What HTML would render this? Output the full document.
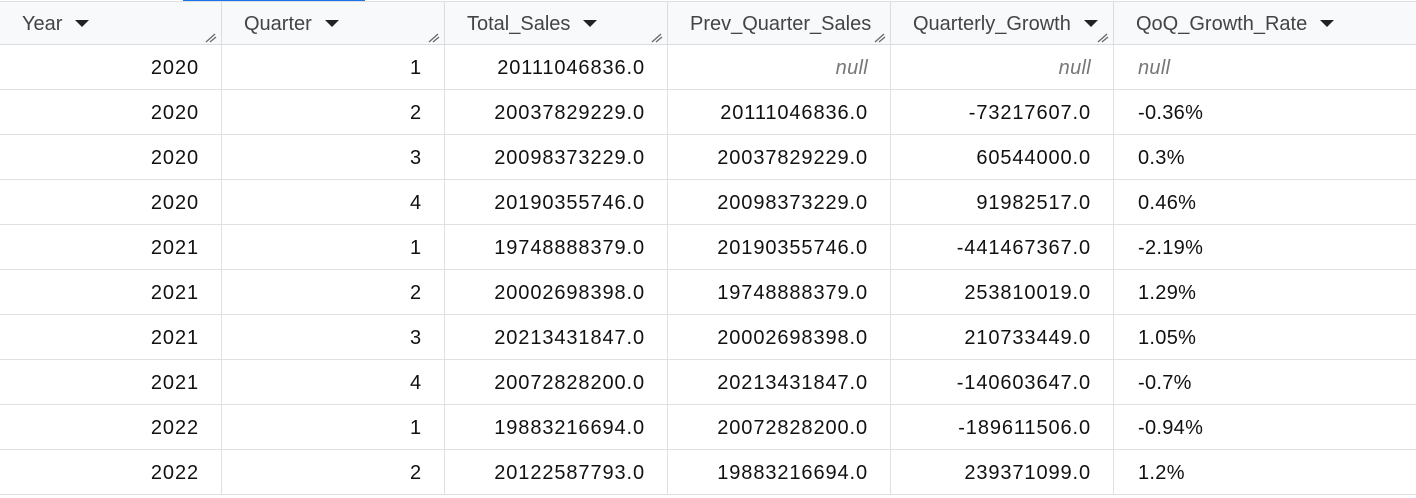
<!DOCTYPE html>
<html><head><meta charset="utf-8"><style>
body{margin:0;width:1416px;height:498px;overflow:hidden;background:#fff;font-family:"Liberation Sans",sans-serif;position:relative}
.hdr{position:absolute;left:0;top:1px;width:1416px;height:44px;background:#f8f9fa;border-top:1px solid #e0e0e0;border-bottom:1px solid #dadce0;box-sizing:border-box}
.hc{position:absolute;top:0;height:43px;box-sizing:border-box;border-right:1px solid #dadce0;color:#444;font-size:20px;line-height:44px;padding-left:22px;white-space:nowrap;overflow:hidden}
.caret{display:inline-block;width:0;height:0;border-left:7px solid transparent;border-right:7px solid transparent;border-top:7px solid #222;vertical-align:middle;margin-left:13px;margin-top:-3px}
.grip{position:absolute;right:4px;bottom:2px;width:12px;height:10px}
.row{position:absolute;left:0;width:1416px;height:45px;border-bottom:1px solid #e0e0e0;box-sizing:border-box}
.c{position:absolute;top:0;height:44px;line-height:47px;box-sizing:border-box;border-right:1px solid #e0e0e0;font-size:20px;color:#111;text-align:right;padding-right:22px;letter-spacing:0.9px;white-space:nowrap}
.c.l{text-align:left;padding-left:24px;padding-right:0;border-right:none;letter-spacing:0.3px}
.null{color:#777;font-style:italic;letter-spacing:0.3px}
.blue{position:absolute;left:183px;top:0;width:182px;height:2px;background:#1a73e8}
</style></head><body>
<div class="blue"></div>
<div class="hdr" id="hdr"></div>
<div id="body"></div>
<script>
const cols=["Year","Quarter","Total_Sales","Prev_Quarter_Sales","Quarterly_Growth","QoQ_Growth_Rate"];
const lefts=[0,222,445,668,891,1114,1416];
const rows=[
["2020","1","20111046836.0",null,null,null],
["2020","2","20037829229.0","20111046836.0","-73217607.0","-0.36%"],
["2020","3","20098373229.0","20037829229.0","60544000.0","0.3%"],
["2020","4","20190355746.0","20098373229.0","91982517.0","0.46%"],
["2021","1","19748888379.0","20190355746.0","-441467367.0","-2.19%"],
["2021","2","20002698398.0","19748888379.0","253810019.0","1.29%"],
["2021","3","20213431847.0","20002698398.0","210733449.0","1.05%"],
["2021","4","20072828200.0","20213431847.0","-140603647.0","-0.7%"],
["2022","1","19883216694.0","20072828200.0","-189611506.0","-0.94%"],
["2022","2","20122587793.0","19883216694.0","239371099.0","1.2%"]];
const hdr=document.getElementById('hdr');
cols.forEach((n,i)=>{
 const d=document.createElement('div');d.className='hc';
 
 
 d.style.left=lefts[i]+'px';d.style.width=(lefts[i+1]-lefts[i])+'px';
 if(i==5)d.style.borderRight='none';
 d.innerHTML=n+(i==3?'':'<span class="caret"></span>');
 if(i<5){d.innerHTML+='<svg class="grip" viewBox="0 0 12 10"><line x1="1" y1="9" x2="10" y2="1" stroke="#666" stroke-width="1.2"/><line x1="5" y1="9" x2="11" y2="4" stroke="#666" stroke-width="1.2"/></svg>';}
 hdr.appendChild(d);
});
const body=document.getElementById('body');
rows.forEach((r,ri)=>{
 const row=document.createElement('div');row.className='row';
 
 
 row.style.top=(45+ri*45)+'px';
 r.forEach((v,i)=>{
  const c=document.createElement('div');c.className='c'+(i==5?' l':'');
  
  
  c.style.left=lefts[i]+'px';c.style.width=(lefts[i+1]-lefts[i])+'px';
  if(v===null){c.innerHTML='<span class="null">null</span>';}else c.textContent=v;
  row.appendChild(c);
 });
 body.appendChild(row);
});
</script>
</body></html>
